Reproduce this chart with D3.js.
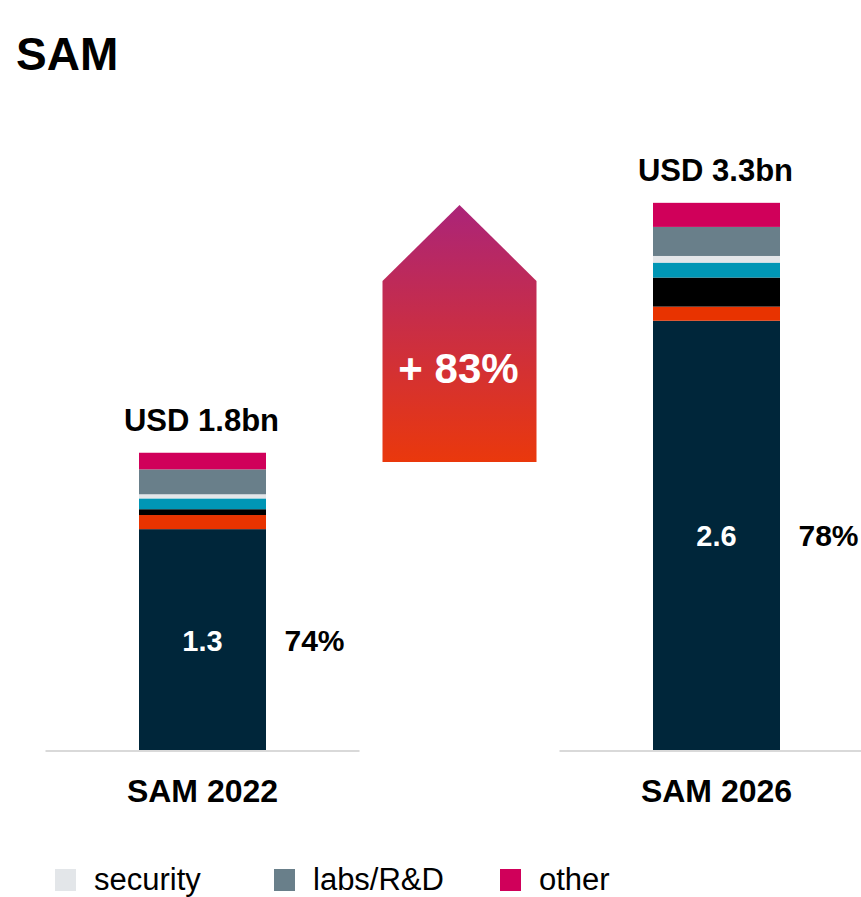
<!DOCTYPE html>
<html>
<head>
<meta charset="utf-8">
<script src="https://cdn.jsdelivr.net/npm/d3@7"></script>
<style>
  body { margin: 0; background: #fff; }
  svg { font-family: "Liberation Sans", Arial, sans-serif; display: block; }
</style>
</head>
<body>
<div id="chart-area"></div>
<script>

// data - values in USD bn, bottom segment first
let years = ["SAM 2022", "SAM 2026"];
let segments = ["core", "seg2", "seg3", "seg4", "security", "labs/R&D", "other"];
let segColors = ["#00263a", "#e83300", "#000000", "#0096b5", "#e3e6e9", "#697f8a", "#d0005a"];
let legendItems = ["security", "labs/R&D", "other"];

let core   = [1.33, 2.585];
let seg2   = [0.085, 0.085];
let seg3   = [0.035, 0.175];
let seg4   = [0.065, 0.09];
let secur  = [0.025, 0.04];
let labs   = [0.15, 0.175];
let other  = [0.10, 0.145];

let totals = ["USD 1.8bn", "USD 3.3bn"];
let coreLabels = ["1.3", "2.6"];
let shares = ["74%", "78%"];
let growth = "+ 83%";

let width = 861, height = 897;

let svg = d3.select("#chart-area").append("svg")
	.attr("width", width)
	.attr("height", height);

// build table for the stack
let table = years.map((yr, i) => {
	let row = {year: yr};
	[core, seg2, seg3, seg4, secur, labs, other].forEach((arr, j) => row[segments[j]] = arr[i]);
	return row;
});

let stack = d3.stack().keys(segments);
let series = stack(table);

let x = d3.scalePoint()
	.domain(years)
	.range([202.5, 716.5]);

let y = d3.scaleLinear()
	.domain([0, 3.3])
	.range([750, 202]);

let color = d3.scaleOrdinal().domain(segments).range(segColors);

let barW = 127;

// title
svg.append("text")
	.attr("x", 16)
	.attr("y", 70)
	.attr("font-size", 46)
	.attr("font-weight", "bold")
	.text("SAM");

// baselines
svg.selectAll(".base")
	.data(years)
	.enter().append("line")
	.attr("class", "base")
	.attr("x1", d => x(d) - 157)
	.attr("x2", d => x(d) + 157)
	.attr("y1", y(0) + 1)
	.attr("y2", y(0) + 1)
	.attr("stroke", "#d9d9d9")
	.attr("stroke-width", 2);

// bars
svg.selectAll(".layer")
	.data(series)
	.enter().append("g")
	.attr("class", "layer")
	.attr("fill", d => color(d.key))
	.selectAll("rect")
	.data(d => d)
	.enter().append("rect")
	.attr("x", d => x(d.data.year) - barW / 2)
	.attr("y", d => y(d[1]))
	.attr("width", barW)
	.attr("height", d => y(d[0]) - y(d[1]));

let topLayer = series[series.length - 1];

// total labels
svg.selectAll(".total")
	.data(years)
	.enter().append("text")
	.attr("class", "total")
	.attr("x", d => x(d) - 1)
	.attr("y", (d, i) => y(topLayer[i][1]) - 22)
	.attr("text-anchor", "middle")
	.attr("font-size", 31)
	.attr("font-weight", "bold")
	.text((d, i) => totals[i]);

// core value inside bar
svg.selectAll(".coreval")
	.data(years)
	.enter().append("text")
	.attr("x", d => x(d))
	.attr("y", (d, i) => y(core[i] / 2) + 11)
	.attr("text-anchor", "middle")
	.attr("font-size", 29)
	.attr("font-weight", "bold")
	.attr("fill", "#fff")
	.text((d, i) => coreLabels[i]);

// share labels
svg.selectAll(".share")
	.data(years)
	.enter().append("text")
	.attr("x", d => x(d) + 82)
	.attr("y", (d, i) => y(core[i] / 2) + 11)
	.attr("font-size", 30)
	.attr("font-weight", "bold")
	.text((d, i) => shares[i]);

// category labels
svg.selectAll(".cat")
	.data(years)
	.enter().append("text")
	.attr("x", d => x(d))
	.attr("y", 802)
	.attr("text-anchor", "middle")
	.attr("font-size", 32)
	.attr("font-weight", "bold")
	.text(d => d);

// growth arrow
let defs = svg.append("defs");
let grad = defs.append("linearGradient")
	.attr("id", "arrowGrad")
	.attr("x1", 0).attr("y1", 0).attr("x2", 0).attr("y2", 1);
grad.append("stop").attr("offset", "0%").attr("stop-color", "#ab2479");
grad.append("stop").attr("offset", "100%").attr("stop-color", "#ea380c");

let ax = (x(years[0]) + x(years[1])) / 2;
let aw = 77;
svg.append("path")
	.attr("d", "M" + (ax - aw) + ",462 L" + (ax - aw) + ",281 L" + ax + ",205 L" + (ax + aw) + ",281 L" + (ax + aw) + ",462 Z")
	.attr("fill", "url(#arrowGrad)");

svg.append("text")
	.attr("x", ax - 1)
	.attr("y", 383)
	.attr("text-anchor", "middle")
	.attr("font-size", 42)
	.attr("font-weight", "bold")
	.attr("fill", "#fff")
	.text(growth);

// legend
let legX = [55, 274, 500];
let leg = svg.selectAll(".legend")
	.data(legendItems)
	.enter().append("g")
	.attr("class", "legend")
	.attr("transform", (d, i) => "translate(" + legX[i] + ",869)");

leg.append("rect")
	.attr("width", 21)
	.attr("height", 22)
	.attr("fill", d => color(d));

leg.append("text")
	.attr("x", 39)
	.attr("y", 21)
	.attr("font-size", 31)
	.text(d => d);

</script>
</body>
</html>
